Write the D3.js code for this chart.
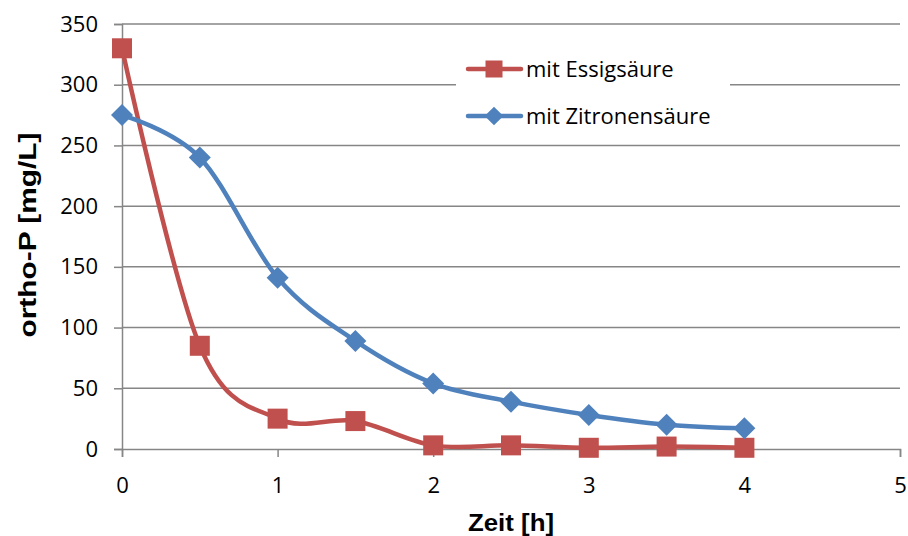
<!DOCTYPE html>
<html>
<head>
<meta charset="utf-8">
<script src="https://cdn.jsdelivr.net/npm/d3@7"></script>
<style>
  html, body { margin: 0; padding: 0; background: #fff; }
  svg { display: block; }
</style>
</head>
<body>
<svg id="chart" width="908" height="536"></svg>
<script>
// Zeitpunkte [h] und ortho-P-Konzentrationen [mg/L]
const zeit = [0, 0.5, 1, 1.5, 2, 2.5, 3, 3.5, 4];
const essigsaeure = [330, 85, 25, 23, 3, 3, 1, 2, 1];
const zitronensaeure = [275, 240, 141, 89, 54, 39, 28, 20, 17];
const seriesNames = ["mit Essigsäure", "mit Zitronensäure"];
const seriesColors = ["#C0504D", "#4F81BD"];
const xTicks = [0, 1, 2, 3, 4, 5];
const yTicks = [0, 50, 100, 150, 200, 250, 300, 350];

const svg = d3.select("#chart");
const margin = { left: 122, right: 8, top: 24, bottom: 87 };
const W = 908, H = 536;

const x = d3.scaleLinear().domain([0, 5]).range([margin.left, W - margin.right]);
const y = d3.scaleLinear().domain([0, 350]).range([H - margin.bottom, margin.top]);

const gridColor = "#868686";
const tickFont = "'Open Sans', Lato, sans-serif";
const titleFont = "'Liberation Sans', Arial, sans-serif";

// horizontal gridlines
svg.append("g")
  .selectAll("line")
  .data(yTicks.filter(d => d > 0))
  .join("line")
  .attr("x1", x(0)).attr("x2", x(5))
  .attr("y1", d => y(d)).attr("y2", d => y(d))
  .attr("stroke", gridColor).attr("stroke-width", 1.5);

// y axis
const yAxis = svg.append("g")
  .attr("transform", `translate(${x(0)},0)`)
  .call(d3.axisLeft(y).tickValues(yTicks).tickSize(8).tickPadding(16));
yAxis.select(".domain").attr("stroke", gridColor).attr("stroke-width", 1.5);
yAxis.selectAll(".tick line").attr("stroke", gridColor).attr("stroke-width", 1.5);
yAxis.selectAll(".tick text")
  .attr("font-family", tickFont).attr("font-size", 22).attr("fill", "#000");

// x axis
const xAxis = svg.append("g")
  .attr("transform", `translate(0,${y(0)})`)
  .call(d3.axisBottom(x).tickValues(xTicks).tickFormat(d3.format("d")).tickSize(8).tickPadding(20));
xAxis.select(".domain").attr("stroke", gridColor).attr("stroke-width", 1.5);
xAxis.selectAll(".tick line").attr("stroke", gridColor).attr("stroke-width", 1.5);
xAxis.selectAll(".tick text")
  .attr("font-family", tickFont).attr("font-size", 22).attr("fill", "#000");

// axis titles
svg.append("text")
  .attr("x", x(2.5)).attr("y", 531)
  .attr("text-anchor", "middle")
  .attr("font-family", titleFont)
  .attr("font-weight", "bold").attr("font-size", 24)
  .attr("textLength", 86).attr("lengthAdjust", "spacingAndGlyphs")
  .text("Zeit [h]");

svg.append("text")
  .attr("transform", `translate(36,235) rotate(-90)`)
  .attr("text-anchor", "middle")
  .attr("font-family", titleFont)
  .attr("font-weight", "bold").attr("font-size", 24)
  .attr("textLength", 205).attr("lengthAdjust", "spacingAndGlyphs")
  .text("ortho-P [mg/L]");

// legend background (covers gridline behind it)
svg.append("rect")
  .attr("x", 456).attr("y", 40).attr("width", 274).attr("height", 98)
  .attr("fill", "#fff");

const line = d3.line()
  .x((d, i) => x(zeit[i]))
  .y(d => y(d))
  .curve(d3.curveCatmullRom.alpha(0));

const series = [essigsaeure, zitronensaeure];
const squareSize = 20, diamondHalf = 11;

function drawMarker(g, kind, cx, cy, color, scale) {
  if (kind === 0) {
    const s = squareSize * scale;
    g.append("rect")
      .attr("x", cx - s / 2).attr("y", cy - s / 2)
      .attr("width", s).attr("height", s)
      .attr("fill", color);
  } else {
    const h = diamondHalf * scale;
    g.append("path")
      .attr("d", `M${cx},${cy - h}L${cx + h},${cy}L${cx},${cy + h}L${cx - h},${cy}Z`)
      .attr("fill", color);
  }
}

series.forEach((vals, k) => {
  const g = svg.append("g");
  g.append("path")
    .attr("d", line(vals))
    .attr("fill", "none")
    .attr("stroke", seriesColors[k])
    .attr("stroke-width", 4.5)
    .attr("stroke-linejoin", "round")
    .attr("stroke-linecap", "round");
  vals.forEach((v, i) => drawMarker(g, k, x(zeit[i]), y(v), seriesColors[k], 1));
});

// legend
const legendY = [69, 116];
seriesNames.forEach((name, k) => {
  const g = svg.append("g");
  g.append("line")
    .attr("x1", 468).attr("x2", 521)
    .attr("y1", legendY[k]).attr("y2", legendY[k])
    .attr("stroke", seriesColors[k]).attr("stroke-width", 4.5)
    .attr("stroke-linecap", "round");
  drawMarker(g, k, 494, legendY[k], seriesColors[k], 0.85);
  g.append("text")
    .attr("x", 526).attr("y", legendY[k] + 8)
    .attr("font-family", tickFont).attr("font-size", 22).attr("fill", "#000")
    .text(name);
});
</script>
</body>
</html>
